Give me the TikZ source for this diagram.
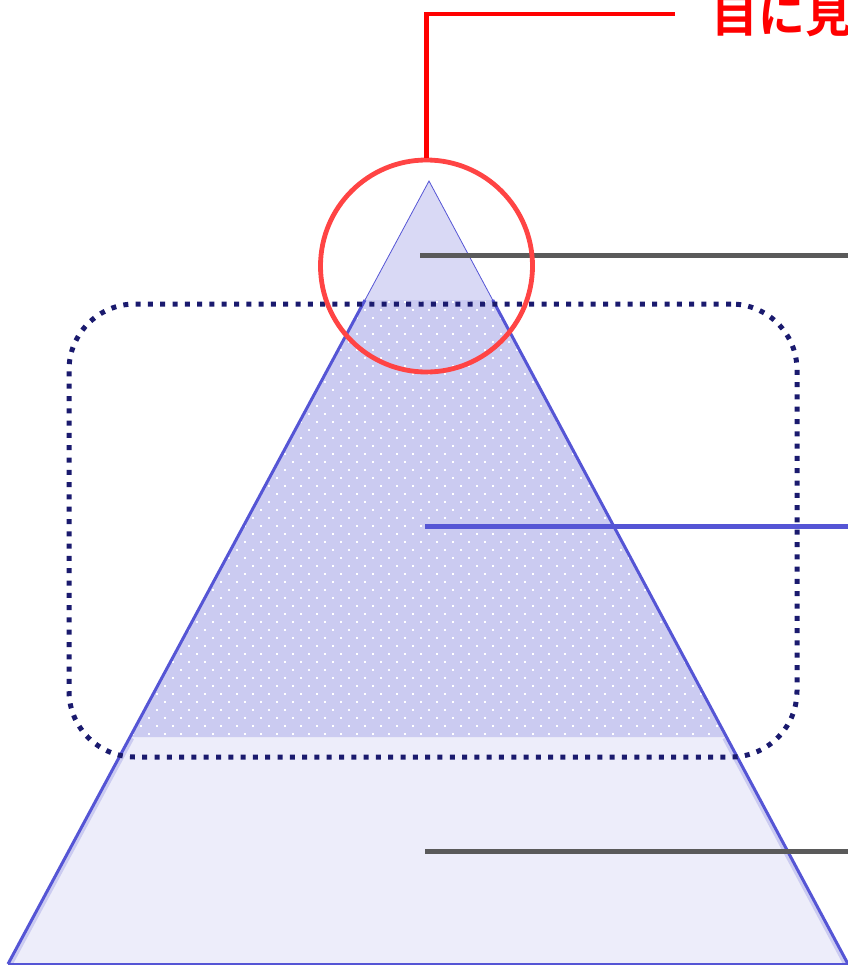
\documentclass[tikz,border=0pt]{standalone}
\usepackage{fontspec}
\newfontfamily\cjk{Noto Sans CJK JP Bold}
\definecolor{edgeblue}{HTML}{5555D5}
\definecolor{topfill}{HTML}{D9D9F5}
\definecolor{midfill}{HTML}{CBCBF1}
\definecolor{botfill}{HTML}{EDEDFA}
\definecolor{navy}{HTML}{1A1A6E}
\definecolor{circred}{HTML}{FF4444}
\definecolor{linegray}{HTML}{5A5A5A}
\tikzset{
  leader/.style={line width=5pt},
  edge/.style={draw=edgeblue, line width=3pt, line join=round},
}
\begin{document}
\begin{tikzpicture}[x=1pt,y=-1pt]
\useasboundingbox (0,0) rectangle (848,966);
% key points
\coordinate (apex) at (429,181);
\coordinate (bl) at (8,964);
\coordinate (br) at (848,964);
\coordinate (ml) at (365,300);
\coordinate (mr) at (492.7,300);
\coordinate (ll) at (130,737);
\coordinate (lr) at (726.5,737);
% bottom section
\fill[botfill] (ll) -- (lr) -- (br) -- (bl) -- cycle;
\begin{scope}
  \clip (ll) -- (lr) -- (br) -- (bl) -- cycle;
  \draw[midfill, line width=9pt] (ll) -- (bl) (lr) -- (br);
\end{scope}
% middle section with dots
\fill[midfill] (ml) -- (mr) -- (lr) -- (ll) -- cycle;
\begin{scope}
  \clip (ml) -- (mr) -- (lr) -- (ll) -- cycle;
  \foreach \r in {0,...,56}{
    \pgfmathsetmacro{\yy}{302+8*\r}
    \pgfmathsetmacro{\off}{mod(\r,2)*8}
    \foreach \c in {0,...,38}{
      \fill[white] ({117+\off+16*\c-1},{\yy-1}) rectangle ++(2,2);
    }
  }
\end{scope}
% top section
\fill[topfill] (apex) -- (mr) -- (ml) -- cycle;
\draw[edgeblue, line width=0.8pt] (ml) -- (apex) -- (mr);
% outline
\draw[edge] (ml) -- (bl);
\draw[edge] (mr) -- (br);
\draw[edgeblue, line width=2pt] (bl) -- (br);
% dotted rounded box
\node[draw=navy, line width=5pt, dash pattern=on 5pt off 7.3pt, rounded corners=66pt,
      minimum width=728pt, minimum height=453pt, inner sep=0pt] (group) at (433,530.5) {};
% leader lines
\coordinate (g1s) at (420,255);
\coordinate (g1e) at (848,255);
\coordinate (b1s) at (425,526);
\coordinate (b1e) at (848,526);
\coordinate (g2s) at (425,851);
\coordinate (g2e) at (848,851);
\draw[leader, linegray] (g1s) -- (g1e);
\draw[leader, edgeblue] (b1s) -- (b1e);
\draw[leader, linegray] (g2s) -- (g2e);
% red circle and callout
\node[draw=circred, line width=4.8pt, circle, minimum size=212pt, inner sep=0pt] (peak) at (426.5,266) {};
\coordinate (corner) at (426.5,14);
\coordinate (callend) at (675,14);
\draw[red, line width=4.5pt] (peak.north) -- (corner) -- (callend);
\node[anchor=base west, text=red, font=\cjk\fontsize{47pt}{52pt}\selectfont, inner sep=0pt] (label) at (711,33) {目に見える};
\end{tikzpicture}
\end{document}
